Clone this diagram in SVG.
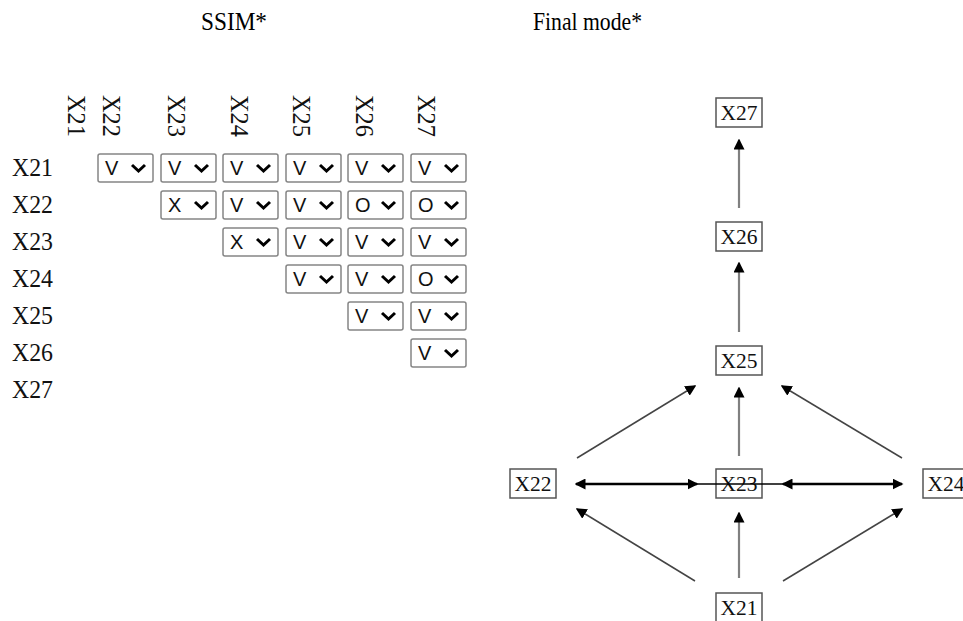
<svg xmlns="http://www.w3.org/2000/svg" width="963" height="621" viewBox="0 0 963 621">
<style>
.title{font-family:"Liberation Serif","Times New Roman",serif;font-size:25px;fill:#000}
.lab{font-family:"Liberation Serif","Times New Roman",serif;font-size:25px;fill:#111}
.sel rect{fill:#fff;stroke:#858585;stroke-width:1.5}
.sel text{font-family:"Liberation Sans",Arial,sans-serif;font-size:20px;fill:#111}
.sel path{fill:none;stroke:#000;stroke-width:3;stroke-linejoin:miter}
.node rect{fill:#fff;stroke:#555;stroke-width:1.5}
.node text{font-family:"Liberation Serif","Times New Roman",serif;font-size:22px;fill:#111;text-anchor:middle}
.vert{stroke:#808080;stroke-width:2.2;fill:none}
.diag{stroke:#444;stroke-width:1.5;fill:none}
.hor{stroke:#000;stroke-width:2.5;fill:none}
</style>
<defs>
<marker id="ah" markerUnits="userSpaceOnUse" markerWidth="11" markerHeight="11" refX="9.5" refY="5.5" orient="auto-start-reverse" viewBox="0 0 11 11">
<path d="M0,0 L11,5.5 L0,11 Z" fill="#000"/>
</marker>
</defs>

<text class="title" x="201" y="30" textLength="66" lengthAdjust="spacingAndGlyphs">SSIM*</text>
<text class="title" x="533" y="30" textLength="109" lengthAdjust="spacingAndGlyphs">Final mode*</text>

<g id="ssim">
<g id="col-headers" class="lab">
<text transform="translate(68,95) rotate(90)" textLength="42" lengthAdjust="spacingAndGlyphs">X21</text>
<text transform="translate(103,95) rotate(90)" textLength="42" lengthAdjust="spacingAndGlyphs">X22</text>
<text transform="translate(168,95) rotate(90)" textLength="42" lengthAdjust="spacingAndGlyphs">X23</text>
<text transform="translate(231,95) rotate(90)" textLength="42" lengthAdjust="spacingAndGlyphs">X24</text>
<text transform="translate(293,95) rotate(90)" textLength="42" lengthAdjust="spacingAndGlyphs">X25</text>
<text transform="translate(356,95) rotate(90)" textLength="42" lengthAdjust="spacingAndGlyphs">X26</text>
<text transform="translate(418,95) rotate(90)" textLength="42" lengthAdjust="spacingAndGlyphs">X27</text>
</g>
<g id="row-headers" class="lab">
<text x="12" y="176" textLength="41" lengthAdjust="spacingAndGlyphs">X21</text>
<text x="12" y="213" textLength="41" lengthAdjust="spacingAndGlyphs">X22</text>
<text x="12" y="250" textLength="41" lengthAdjust="spacingAndGlyphs">X23</text>
<text x="12" y="287" textLength="41" lengthAdjust="spacingAndGlyphs">X24</text>
<text x="12" y="324" textLength="41" lengthAdjust="spacingAndGlyphs">X25</text>
<text x="12" y="361" textLength="41" lengthAdjust="spacingAndGlyphs">X26</text>
<text x="12" y="398" textLength="41" lengthAdjust="spacingAndGlyphs">X27</text>
</g>
<g id="selects" class="sel">
<!-- row X21 -->
<g transform="translate(98,154)"><rect x="0" y="0" width="55" height="28" rx="2"/><text x="7" y="21">V</text><path d="M34,11 L40.5,17 L47,11"/></g>
<g transform="translate(161,154)"><rect x="0" y="0" width="55" height="28" rx="2"/><text x="7" y="21">V</text><path d="M34,11 L40.5,17 L47,11"/></g>
<g transform="translate(223,154)"><rect x="0" y="0" width="55" height="28" rx="2"/><text x="7" y="21">V</text><path d="M34,11 L40.5,17 L47,11"/></g>
<g transform="translate(286,154)"><rect x="0" y="0" width="55" height="28" rx="2"/><text x="7" y="21">V</text><path d="M34,11 L40.5,17 L47,11"/></g>
<g transform="translate(348,154)"><rect x="0" y="0" width="55" height="28" rx="2"/><text x="7" y="21">V</text><path d="M34,11 L40.5,17 L47,11"/></g>
<g transform="translate(411,154)"><rect x="0" y="0" width="55" height="28" rx="2"/><text x="7" y="21">V</text><path d="M34,11 L40.5,17 L47,11"/></g>
<!-- row X22 -->
<g transform="translate(161,191)"><rect x="0" y="0" width="55" height="28" rx="2"/><text x="7" y="21">X</text><path d="M34,11 L40.5,17 L47,11"/></g>
<g transform="translate(223,191)"><rect x="0" y="0" width="55" height="28" rx="2"/><text x="7" y="21">V</text><path d="M34,11 L40.5,17 L47,11"/></g>
<g transform="translate(286,191)"><rect x="0" y="0" width="55" height="28" rx="2"/><text x="7" y="21">V</text><path d="M34,11 L40.5,17 L47,11"/></g>
<g transform="translate(348,191)"><rect x="0" y="0" width="55" height="28" rx="2"/><text x="7" y="21">O</text><path d="M34,11 L40.5,17 L47,11"/></g>
<g transform="translate(411,191)"><rect x="0" y="0" width="55" height="28" rx="2"/><text x="7" y="21">O</text><path d="M34,11 L40.5,17 L47,11"/></g>
<!-- row X23 -->
<g transform="translate(223,228)"><rect x="0" y="0" width="55" height="28" rx="2"/><text x="7" y="21">X</text><path d="M34,11 L40.5,17 L47,11"/></g>
<g transform="translate(286,228)"><rect x="0" y="0" width="55" height="28" rx="2"/><text x="7" y="21">V</text><path d="M34,11 L40.5,17 L47,11"/></g>
<g transform="translate(348,228)"><rect x="0" y="0" width="55" height="28" rx="2"/><text x="7" y="21">V</text><path d="M34,11 L40.5,17 L47,11"/></g>
<g transform="translate(411,228)"><rect x="0" y="0" width="55" height="28" rx="2"/><text x="7" y="21">V</text><path d="M34,11 L40.5,17 L47,11"/></g>
<!-- row X24 -->
<g transform="translate(286,265)"><rect x="0" y="0" width="55" height="28" rx="2"/><text x="7" y="21">V</text><path d="M34,11 L40.5,17 L47,11"/></g>
<g transform="translate(348,265)"><rect x="0" y="0" width="55" height="28" rx="2"/><text x="7" y="21">V</text><path d="M34,11 L40.5,17 L47,11"/></g>
<g transform="translate(411,265)"><rect x="0" y="0" width="55" height="28" rx="2"/><text x="7" y="21">O</text><path d="M34,11 L40.5,17 L47,11"/></g>
<!-- row X25 -->
<g transform="translate(348,302)"><rect x="0" y="0" width="55" height="28" rx="2"/><text x="7" y="21">V</text><path d="M34,11 L40.5,17 L47,11"/></g>
<g transform="translate(411,302)"><rect x="0" y="0" width="55" height="28" rx="2"/><text x="7" y="21">V</text><path d="M34,11 L40.5,17 L47,11"/></g>
<!-- row X26 -->
<g transform="translate(411,339)"><rect x="0" y="0" width="55" height="28" rx="2"/><text x="7" y="21">V</text><path d="M34,11 L40.5,17 L47,11"/></g>
</g>
</g>

<g id="connectors">
<line class="vert" x1="739" y1="208" x2="739" y2="140" marker-end="url(#ah)"/>
<line class="vert" x1="739" y1="332" x2="739" y2="263" marker-end="url(#ah)"/>
<line class="vert" x1="739" y1="456" x2="739" y2="388" marker-end="url(#ah)"/>
<line class="vert" x1="739" y1="578" x2="739" y2="513" marker-end="url(#ah)"/>
<line class="diag" x1="577" y1="458" x2="695" y2="386" marker-end="url(#ah)"/>
<line class="diag" x1="902" y1="458" x2="782" y2="386" marker-end="url(#ah)"/>
<line class="diag" x1="695" y1="581" x2="577" y2="509" marker-end="url(#ah)"/>
<line class="diag" x1="783" y1="581" x2="902" y2="509" marker-end="url(#ah)"/>
<line class="hor" x1="576" y1="484" x2="697" y2="484" marker-start="url(#ah)" marker-end="url(#ah)"/>
<line class="hor" x1="783" y1="484" x2="902" y2="484" marker-start="url(#ah)" marker-end="url(#ah)"/>
</g>

<g id="node-X27" class="node"><rect x="716" y="98" width="46" height="29"/><text x="739" y="120" textLength="37" lengthAdjust="spacingAndGlyphs">X27</text></g>
<g id="node-X26" class="node"><rect x="716" y="222" width="46" height="29"/><text x="739" y="244" textLength="37" lengthAdjust="spacingAndGlyphs">X26</text></g>
<g id="node-X25" class="node"><rect x="716" y="346" width="46" height="29"/><text x="739" y="368" textLength="37" lengthAdjust="spacingAndGlyphs">X25</text></g>
<g id="node-X23" class="node"><rect x="716" y="469" width="46" height="29"/><text x="739" y="491" textLength="37" lengthAdjust="spacingAndGlyphs">X23</text></g>
<g id="node-X22" class="node"><rect x="510" y="469" width="46" height="29"/><text x="533" y="491" textLength="37" lengthAdjust="spacingAndGlyphs">X22</text></g>
<g id="node-X24" class="node"><rect x="923" y="469" width="46" height="29"/><text x="946" y="491" textLength="37" lengthAdjust="spacingAndGlyphs">X24</text></g>
<g id="node-X21" class="node"><rect x="716" y="593" width="46" height="29"/><text x="739" y="615" textLength="37" lengthAdjust="spacingAndGlyphs">X21</text></g>

<line id="strike-X23" x1="697" y1="484" x2="783" y2="484" stroke="#000" stroke-width="1.5"/>
</svg>
